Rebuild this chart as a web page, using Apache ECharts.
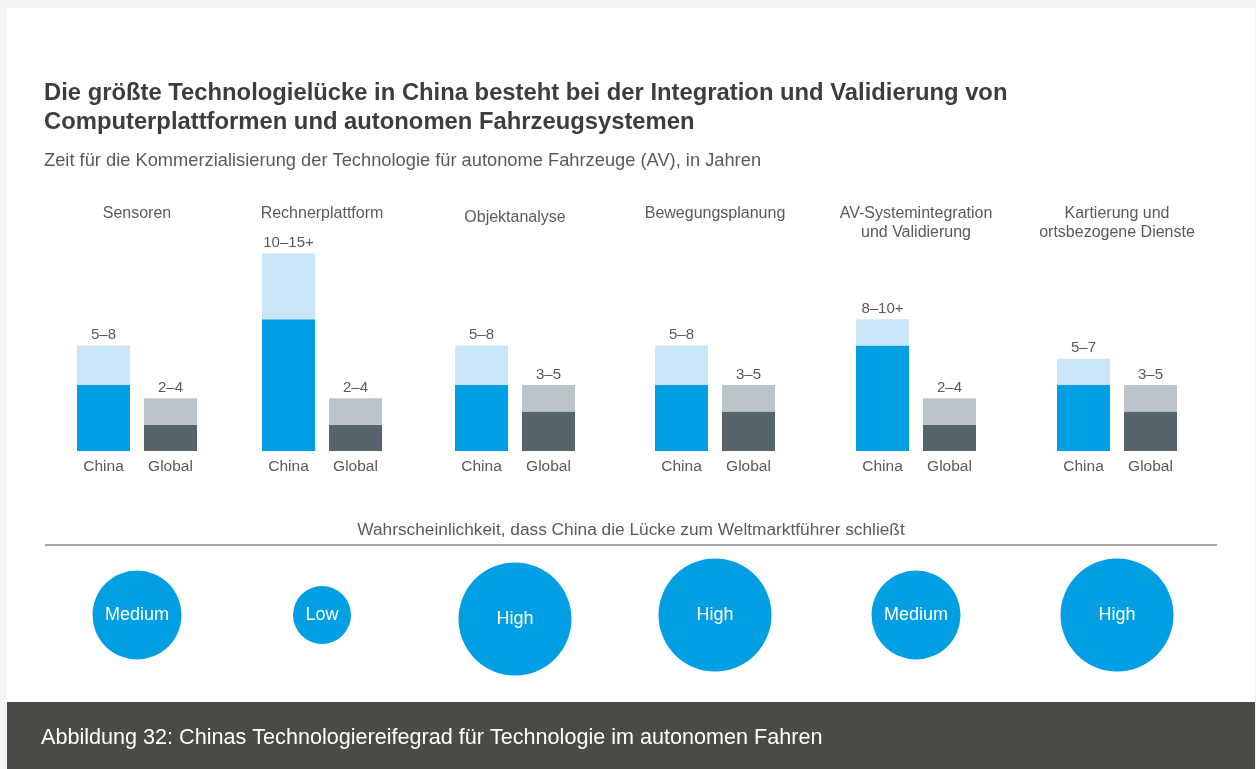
<!DOCTYPE html>
<html>
<head>
<meta charset="utf-8">
<script src="https://cdn.jsdelivr.net/npm/echarts@6/dist/echarts.min.js"></script>
<style>
html,body{margin:0;padding:0;background:#f4f4f4;}
#chart{width:1256px;height:769px;}
</style>
</head>
<body>
<div id="chart"></div>
<script>
// ---- data ----
const groups = ["Sensoren", "Rechnerplattform", "Objektanalyse", "Bewegungsplanung", "AV-Systemintegration\nund Validierung", "Kartierung und\nortsbezogene Dienste"];
const barCategories = ["China", "Global"];
const chinaMin = [5, 10, 5, 5, 8, 5];
const chinaMax = [8, 15, 8, 8, 10, 7];
const globalMin = [2, 2, 3, 3, 2, 3];
const globalMax = [4, 4, 5, 5, 4, 5];
const chinaLabels = ["5–8", "10–15+", "5–8", "5–8", "8–10+", "5–7"];
const globalLabels = ["2–4", "2–4", "3–5", "3–5", "2–4", "3–5"];
const likelihood = ["Medium", "Low", "High", "High", "Medium", "High"];

const titleText = "Die größte Technologielücke in China besteht bei der Integration und Validierung von\nComputerplattformen und autonomen Fahrzeugsystemen";
const subtitleText = "Zeit für die Kommerzialisierung der Technologie für autonome Fahrzeuge (AV), in Jahren";
const likelihoodTitle = "Wahrscheinlichkeit, dass China die Lücke zum Weltmarktführer schließt";
const footerText = "Abbildung 32: Chinas Technologiereifegrad für Technologie im autonomen Fahren";

// ---- layout / style ----
const centers = [137, 322, 515, 715, 916, 1117];
const bubbleTop = [555, 555, 559, 555, 555, 555];
const bubbleSize = { Low: 58, Medium: 89, High: 113 };
const FONT = "'Liberation Sans', Arial, sans-serif";
const TXT = "#5a5a5a";
const C_DARK = "#009fe3", C_LIGHT = "#c9e6f8", G_DARK = "#56646c", G_LIGHT = "#bcc4ca";

const grid = [], xAxis = [], yAxis = [], series = [];
groups.forEach((g, i) => {
  grid.push({ left: centers[i] - 67, width: 134, top: 240, height: 211 });
  xAxis.push({ type: 'category', gridIndex: i, data: barCategories,
    axisLine: { show: false }, axisTick: { show: false },
    axisLabel: { color: TXT, fontSize: 15.5, fontFamily: FONT, margin: 8 } });
  yAxis.push({ type: 'value', gridIndex: i, min: 0, max: 16, show: false, splitLine: { show: false } });
  series.push({
    type: 'bar', xAxisIndex: i, yAxisIndex: i, stack: 's' + i, barWidth: 53, silent: true,
    data: [
      { value: chinaMin[i], itemStyle: { color: C_DARK } },
      { value: globalMin[i], itemStyle: { color: G_DARK } }
    ]
  });
  series.push({
    type: 'bar', xAxisIndex: i, yAxisIndex: i, stack: 's' + i, barWidth: 53, silent: true,
    data: [
      { value: chinaMax[i] - chinaMin[i], itemStyle: { color: C_LIGHT } },
      { value: globalMax[i] - globalMin[i], itemStyle: { color: G_LIGHT } }
    ],
    label: { show: true, position: 'top', distance: 3, color: TXT, fontSize: 15, fontFamily: FONT,
      formatter: p => (p.dataIndex === 0 ? chinaLabels[i] : globalLabels[i]) }
  });
});
groups.forEach((g, i) => {
  const gi = 6 + i;
  grid.push({ left: centers[i] - 60, width: 120, top: bubbleTop[i], height: 120 });
  xAxis.push({ type: 'category', gridIndex: gi, data: [g], show: false });
  yAxis.push({ type: 'value', gridIndex: gi, min: 0, max: 1, show: false });
  series.push({
    type: 'scatter', xAxisIndex: gi, yAxisIndex: gi, silent: true,
    data: [[0, 0.5]],
    symbolSize: bubbleSize[likelihood[i]],
    itemStyle: { color: C_DARK, opacity: 1 },
    label: { show: true, position: 'inside', color: '#ffffff', fontSize: 18, fontFamily: FONT,
      formatter: () => likelihood[i] }
  });
});

const graphic = [
  { type: 'rect', z: -10, shape: { x: 7, y: 8, width: 1248, height: 761 }, style: { fill: '#ffffff' } },
  { type: 'rect', z: -5, shape: { x: 7, y: 702, width: 1248, height: 67 }, style: { fill: '#4a4a48' } },
  { type: 'text', x: 44, y: 79, style: { text: titleText, font: "bold 23.8px " + FONT, fill: '#3d3d3d', lineHeight: 29, textVerticalAlign: 'top' } },
  { type: 'text', x: 44, y: 161, style: { text: subtitleText, font: "18.3px " + FONT, fill: TXT, textVerticalAlign: 'middle' } },
  { type: 'text', x: 631, y: 530, style: { text: likelihoodTitle, font: "17.3px " + FONT, fill: TXT, textAlign: 'center', textVerticalAlign: 'middle' } },
  { type: 'line', shape: { x1: 45, y1: 545, x2: 1217, y2: 545 }, style: { stroke: '#8a8a8a', lineWidth: 1.5 } },
  { type: 'text', x: 41, y: 738, style: { text: footerText, font: "21.6px " + FONT, fill: '#ffffff', textVerticalAlign: 'middle' } }
];
groups.forEach((g, i) => {
  graphic.push({ type: 'text', x: centers[i], y: (i === 2 ? 208 : 204),
    style: { text: g, font: "16px " + FONT, fill: TXT, textAlign: 'center', textVerticalAlign: 'top', lineHeight: 19 } });
});

const chart = echarts.init(document.getElementById('chart'), null, { renderer: 'canvas' });
chart.setOption({
  backgroundColor: '#f4f4f4',
  animation: false,
  grid, xAxis, yAxis, series, graphic
});
</script>
</body>
</html>
